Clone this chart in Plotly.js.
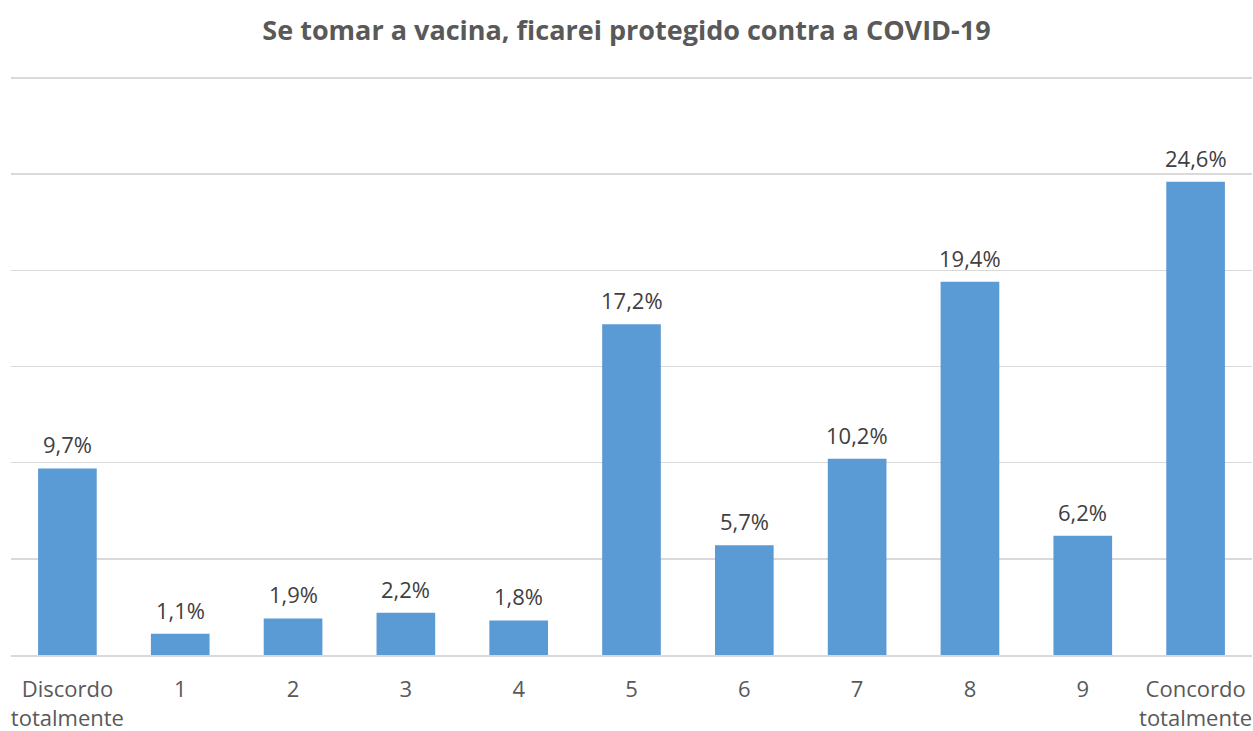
<!DOCTYPE html>
<html>
<head>
<meta charset="utf-8">
<script src="https://cdn.plot.ly/plotly-3.0.1.min.js"></script>
<style>html,body{margin:0;padding:0;background:#fff;}#chart{width:1253px;height:731px;}</style>
</head>
<body>
<div id="chart"></div>
<script>
const categories = ["Discordo<br>totalmente", "1", "2", "3", "4", "5", "6", "7", "8", "9", "Concordo<br>totalmente"];
const values = [9.7, 1.1, 1.9, 2.2, 1.8, 17.2, 5.7, 10.2, 19.4, 6.2, 24.6];
const chartTitle = "Se tomar a vacina, ficarei protegido contra a COVID-19";

const FONT = "Open Sans, Noto Sans, sans-serif";

const trace = {
  type: "bar",
  x: categories,
  y: values,
  marker: {color: "#5B9BD5"},
  hoverinfo: "skip"
};

const labels = categories.map((c, i) => ({
  x: c,
  y: values[i],
  xref: "x", yref: "y",
  text: values[i].toFixed(1).replace(".", ",") + "%",
  showarrow: false,
  yanchor: "bottom",
  yshift: 7,
  font: {family: FONT, size: 22, color: "#404040"}
}));

const layout = {
  width: 1253,
  height: 731,
  separators: ",.",
  paper_bgcolor: "#fff",
  plot_bgcolor: "#fff",
  margin: {l: 11, r: 1, t: 76, b: 76},
  bargap: 0.48,
  showlegend: false,
  annotations: labels,
  title: {
    text: "<b>" + chartTitle + "</b>",
    font: {family: FONT, size: 27, color: "#595959"},
    x: 0.5, xanchor: "center", y: 0.958, yanchor: "middle"
  },
  xaxis: {
    type: "category",
    tickfont: {family: FONT, size: 22, color: "#595959"},
    ticklabelstandoff: 14,
    showline: true, linecolor: "#D9D9D9", linewidth: 1.5,
    ticks: "", showgrid: false, fixedrange: true
  },
  yaxis: {
    range: [0, 30.1],
    tickvals: [5, 10, 15, 20, 25, 30],
    showticklabels: false,
    showgrid: true, gridcolor: "#D9D9D9", gridwidth: 1.5,
    zeroline: false, ticks: "", fixedrange: true
  }
};

Plotly.newPlot("chart", [trace], layout, {displayModeBar: false, staticPlot: true});
</script>
</body>
</html>
